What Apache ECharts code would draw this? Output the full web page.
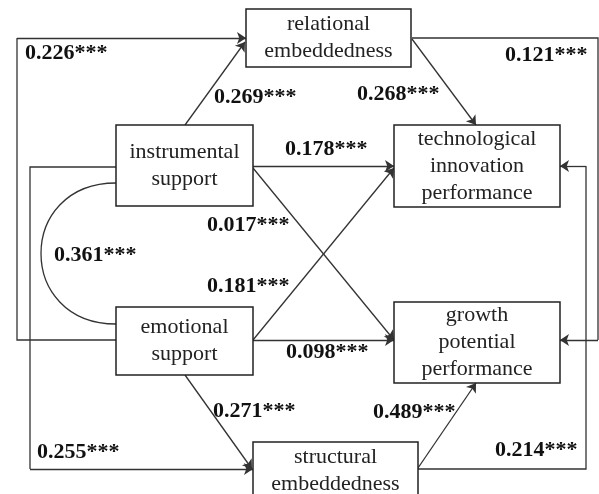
<!DOCTYPE html>
<html>
<head>
<meta charset="utf-8">
<script src="https://cdn.jsdelivr.net/npm/echarts@6/dist/echarts.min.js"></script>
<style>
  html, body { margin: 0; padding: 0; background: #fff; }
  #chart { width: 599px; height: 494px; }
</style>
</head>
<body>
<div id="chart"></div>
<script>
// 变量名称
const nodes = [
    'relational\nembeddedness',
    'instrumental\nsupport',
    'technological\ninnovation\nperformance',
    'emotional\nsupport',
    'growth\npotential\nperformance',
    'structural\nembeddedness'
];

// 路径系数 (from, to, coef)
const pathFrom = [3, 1, 1, 0, 0, 5, 1, 1, 3, 3, 3, 5];
const pathTo = [0, 5, 0, 2, 4, 2, 2, 4, 2, 4, 5, 4];
const coefs = ['0.226***', '0.255***', '0.269***', '0.268***', '0.121***', '0.214***',
    '0.178***', '0.017***', '0.181***', '0.098***', '0.271***', '0.489***'];
const corrLabel = '0.361***'; // instrumental <-> emotional

// 布局 (画布坐标)
const boxLayout = [
    [246, 9, 411, 67],
    [116, 125, 253, 206],
    [394, 125, 560, 207],
    [116, 307, 253, 375],
    [394, 302, 560, 383],
    [253, 442, 418, 500]
];
const pathLayout = [
    [[116, 340], [17, 340], [17, 38], [246, 38]],
    [[116, 167], [30, 167], [30, 469], [253, 469]],
    [[185, 125], [245, 42]],
    [[412, 39], [476, 125]],
    [[412, 38], [598, 38], [598, 340], [560, 340]],
    [[418, 469], [586, 469], [586, 166], [560, 166]],
    [[253, 166], [394, 166]],
    [[253, 168], [394, 340]],
    [[253, 340], [394, 168]],
    [[253, 340], [394, 340]],
    [[185, 375], [252, 469]],
    [[418, 468], [476, 383]]
];
const labelLayout = [
    [25, 53], [37, 452], [214, 97], [357, 94], [505, 55], [495, 450],
    [285, 149], [207, 225], [207, 286], [286, 352], [213, 411], [373, 412]
];
const corrLayout = { label: [54, 255], curve: [116, 183, 116, 324, 16, 183, 16, 324] };

const font = '"Liberation Serif", "Times New Roman", serif';

let chart = echarts.init(document.getElementById('chart'));

// 折线部分 (不含最后一段) 和 带箭头的最后一段
let bendData = [];
let arrowData = [];
pathLayout.forEach((p, i) => {
    if (p.length > 2) {
        bendData.push({ name: coefs[i], coords: p.slice(0, -1) });
    }
    arrowData.push({ name: coefs[i], coords: p.slice(-2) });
});

let option = {
    animation: false,
    grid: { left: 0, right: 0, top: 0, bottom: 0 },
    xAxis: { type: 'value', min: 0, max: 599, show: false },
    yAxis: { type: 'value', min: 0, max: 494, inverse: true, show: false },
    series: [{
        // 路径
        type: 'lines',
        coordinateSystem: 'cartesian2d',
        polyline: true,
        silent: true,
        lineStyle: { color: '#333', width: 1.3, opacity: 1 },
        data: bendData,
        z: 1
    }, {
        // 箭头 (最后一段)
        type: 'lines',
        coordinateSystem: 'cartesian2d',
        silent: true,
        symbol: ['none', 'arrow'],
        symbolSize: 9,
        lineStyle: { color: '#333', width: 1.3, opacity: 1 },
        data: arrowData,
        z: 1
    }, {
        // 相关 (曲线)
        type: 'custom',
        coordinateSystem: 'cartesian2d',
        clip: false,
        silent: true,
        data: [[0, 0]],
        renderItem: function (params, api) {
            let c = corrLayout.curve;
            let a = api.coord([c[0], c[1]]);
            let b = api.coord([c[2], c[3]]);
            let p1 = api.coord([c[4], c[5]]);
            let p2 = api.coord([c[6], c[7]]);
            let l = api.coord(corrLayout.label);
            return {
                type: 'group',
                children: [{
                    type: 'bezierCurve',
                    shape: { x1: a[0], y1: a[1], x2: b[0], y2: b[1], cpx1: p1[0], cpy1: p1[1], cpx2: p2[0], cpy2: p2[1] },
                    style: { stroke: '#333', lineWidth: 1.3, fill: null }
                }, {
                    type: 'text',
                    style: {
                        text: corrLabel, x: l[0], y: l[1], align: 'left', verticalAlign: 'middle',
                        font: 'bold 22px ' + font, fill: '#111'
                    }
                }]
            };
        },
        z: 2
    }, {
        // 变量框
        type: 'custom',
        coordinateSystem: 'cartesian2d',
        clip: false,
        silent: true,
        data: nodes.map((n, i) => [i, i]),
        renderItem: function (params, api) {
            let b = boxLayout[params.dataIndex];
            let p0 = api.coord([b[0], b[1]]);
            let p1 = api.coord([b[2], b[3]]);
            return {
                type: 'group',
                children: [{
                    type: 'rect',
                    shape: { x: p0[0], y: p0[1], width: p1[0] - p0[0], height: p1[1] - p0[1] },
                    style: { fill: '#fff', stroke: '#222', lineWidth: 1.5 }
                }, {
                    type: 'text',
                    style: {
                        text: nodes[params.dataIndex],
                        x: (p0[0] + p1[0]) / 2, y: (p0[1] + p1[1]) / 2,
                        align: 'center', verticalAlign: 'middle',
                        font: '22px ' + font, lineHeight: 27, fill: '#222'
                    }
                }]
            };
        },
        z: 3
    }, {
        // 系数标签
        type: 'custom',
        coordinateSystem: 'cartesian2d',
        clip: false,
        silent: true,
        data: coefs.map((c, i) => [i, i]),
        renderItem: function (params, api) {
            let p = api.coord(labelLayout[params.dataIndex]);
            return {
                type: 'text',
                style: {
                    text: coefs[params.dataIndex], x: p[0], y: p[1],
                    align: 'left', verticalAlign: 'middle',
                    font: 'bold 22px ' + font, fill: '#111'
                }
            };
        },
        z: 4
    }]
};

chart.setOption(option);
</script>
</body>
</html>
